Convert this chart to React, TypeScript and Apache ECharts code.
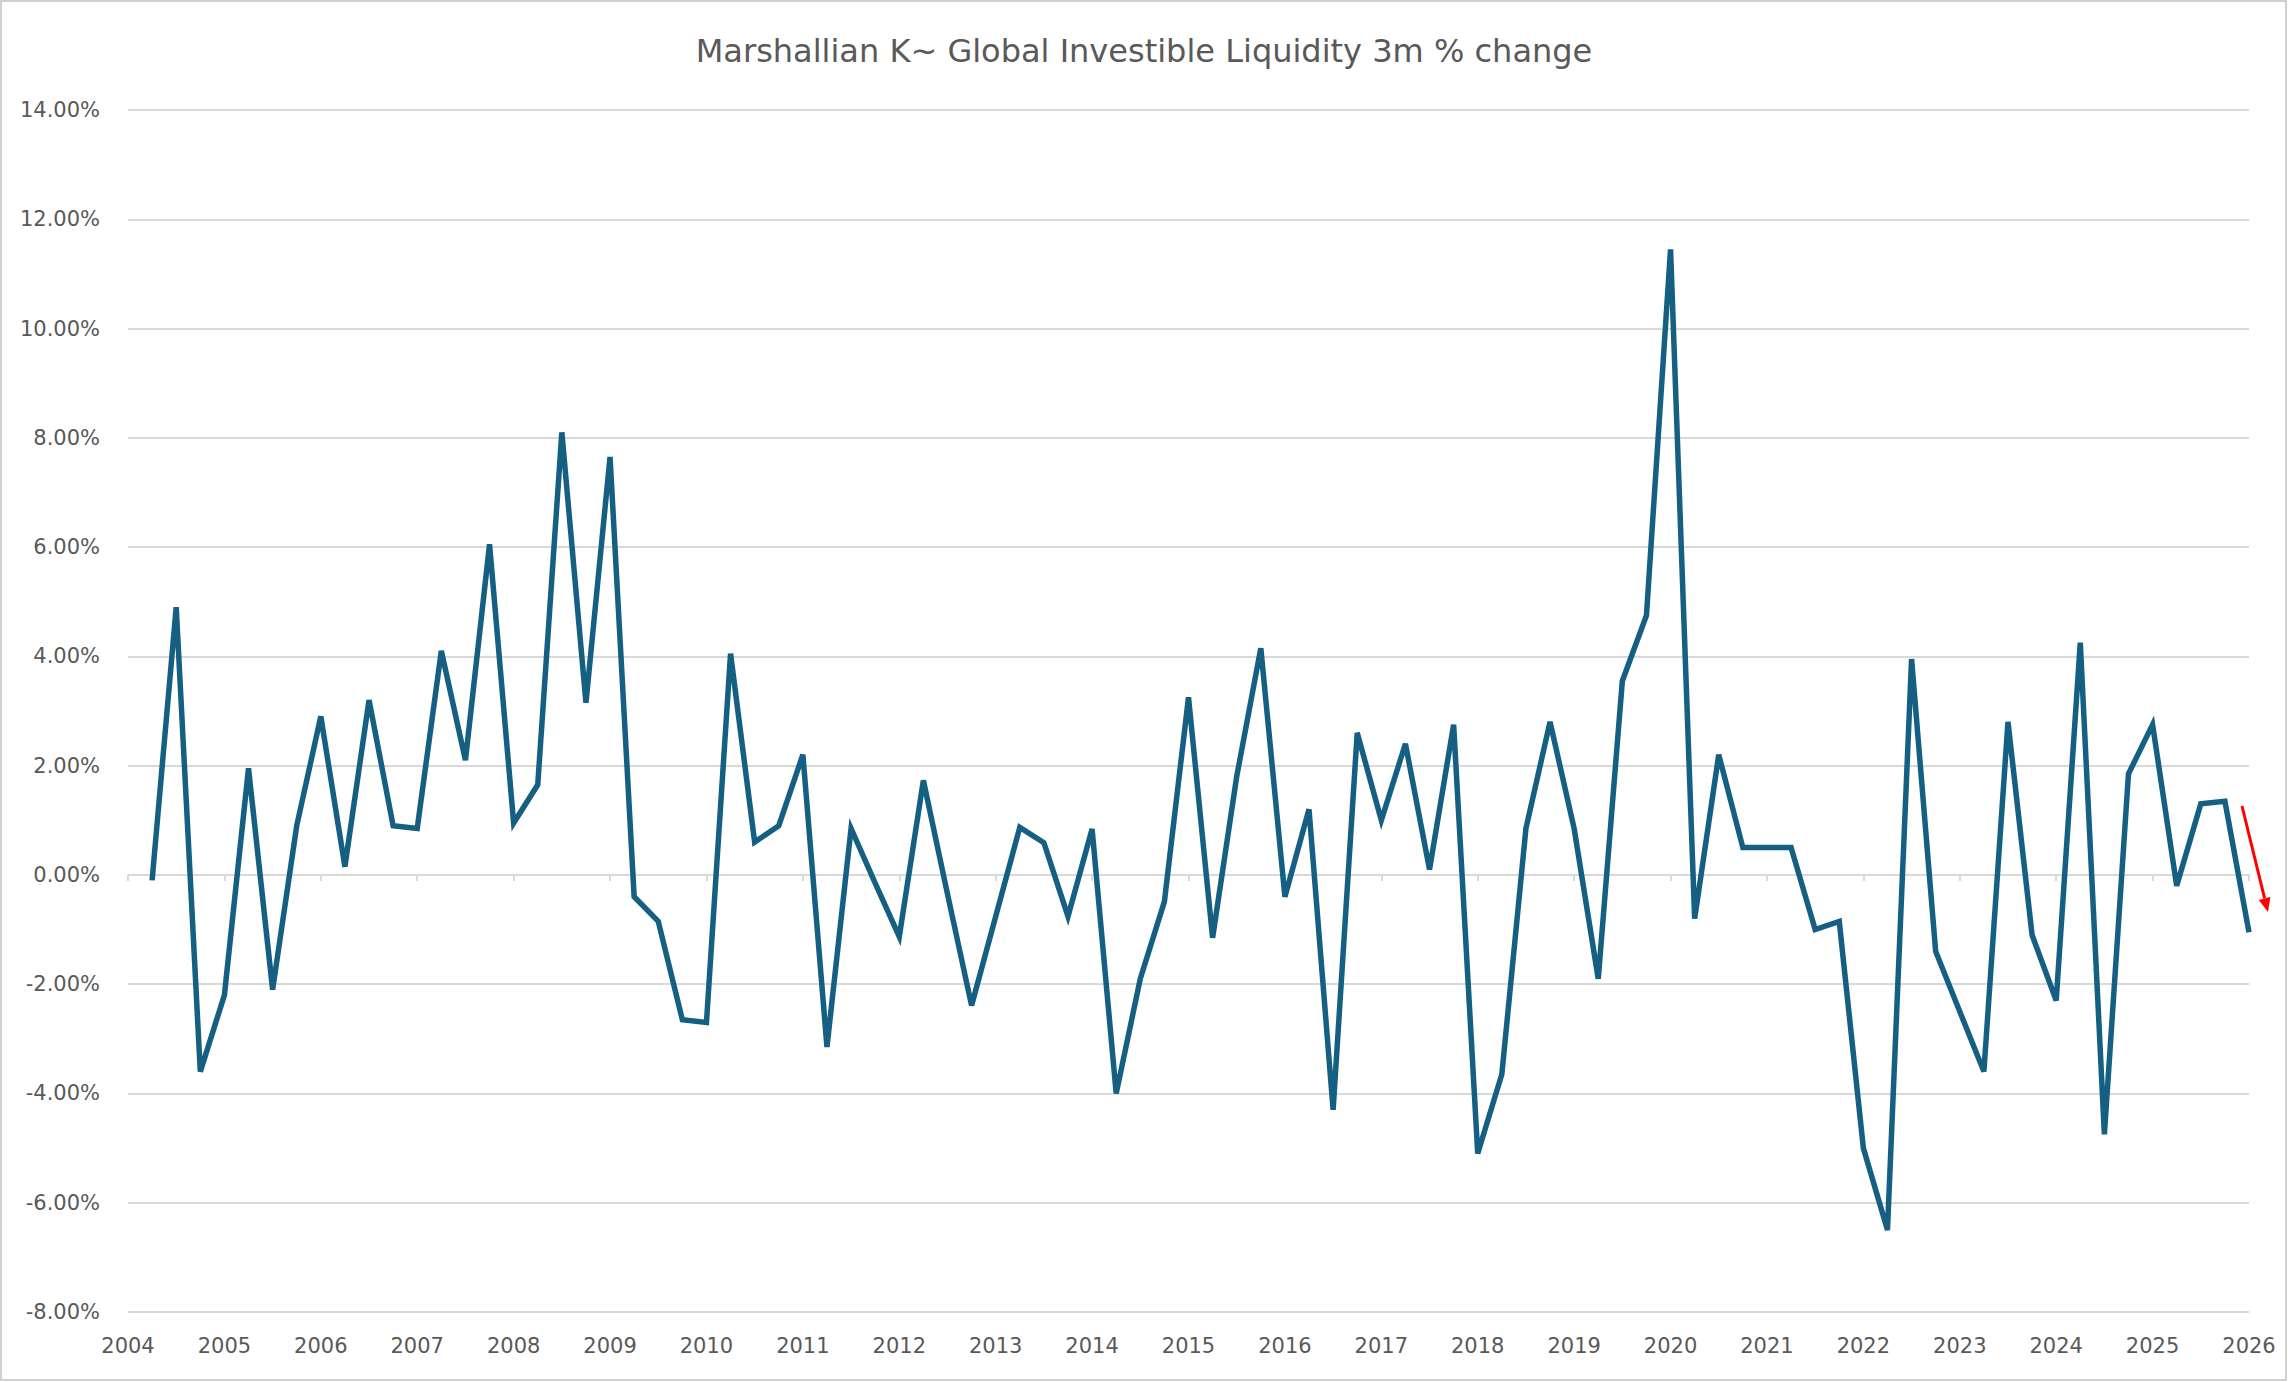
import React, { useEffect, useRef } from "react";
import * as echarts from "echarts";

// quarterly periods (year-month of the observation)
const periods = [
  "2004-04", "2004-07", "2004-10",
  "2005-01", "2005-04", "2005-07", "2005-10",
  "2006-01", "2006-04", "2006-07", "2006-10",
  "2007-01", "2007-04", "2007-07", "2007-10",
  "2008-01", "2008-04", "2008-07", "2008-10",
  "2009-01", "2009-04", "2009-07", "2009-10",
  "2010-01", "2010-04", "2010-07", "2010-10",
  "2011-01", "2011-04", "2011-07", "2011-10",
  "2012-01", "2012-04", "2012-07", "2012-10",
  "2013-01", "2013-04", "2013-07", "2013-10",
  "2014-01", "2014-04", "2014-07", "2014-10",
  "2015-01", "2015-04", "2015-07", "2015-10",
  "2016-01", "2016-04", "2016-07", "2016-10",
  "2017-01", "2017-04", "2017-07", "2017-10",
  "2018-01", "2018-04", "2018-07", "2018-10",
  "2019-01", "2019-04", "2019-07", "2019-10",
  "2020-01", "2020-04", "2020-07", "2020-10",
  "2021-01", "2021-04", "2021-07", "2021-10",
  "2022-01", "2022-04", "2022-07", "2022-10",
  "2023-01", "2023-04", "2023-07", "2023-10",
  "2024-01", "2024-04", "2024-07", "2024-10",
  "2025-01", "2025-04", "2025-07", "2025-10",
  "2026-01",
];

// 3m % change
const liquidityChange = [
  -0.1, 4.9, -3.6,
  -2.2, 1.95, -2.1, 0.9,
  2.9, 0.15, 3.2, 0.9,
  0.85, 4.1, 2.1, 6.05,
  0.95, 1.65, 8.1, 3.15,
  7.65, -0.4, -0.85, -2.65,
  -2.7, 4.05, 0.6, 0.9,
  2.2, -3.15, 0.85, -0.15,
  -1.13, 1.73, -0.35, -2.39,
  -0.76, 0.87, 0.59, -0.76,
  0.84, -4.0, -1.9, -0.49,
  3.25, -1.15, 1.8, 4.15,
  -0.4, 1.2, -4.3, 2.6,
  1.0, 2.4, 0.1, 2.75,
  -5.1, -3.65, 0.85, 2.8,
  0.85, -1.9, 3.55, 4.75,
  11.45, -0.8, 2.2, 0.5,
  0.5, 0.5, -1.0, -0.85,
  -5.0, -6.5, 3.95, -1.4,
  -2.5, -3.6, 2.8, -1.1,
  -2.3, 4.25, -4.75, 1.85,
  2.75, -0.2, 1.3, 1.35,
  -1.05,
];

const TITLE = "Marshallian K~ Global Investible Liquidity 3m % change";
const FONT = "'DejaVu Sans', sans-serif";
const TEXT = "#595959";
const GRID = "#d9d9d9";

const toYear = (p: string) => {
  const [y, m] = p.split("-").map(Number);
  return y + (m - 1) / 12;
};

const App: React.FC = () => {
  const chartRef = useRef<HTMLDivElement>(null);

  useEffect(() => {
    if (!chartRef.current) return;
    const chart = echarts.init(chartRef.current, undefined, { renderer: "svg" });

    const points = periods.map((p, i) => [toYear(p), liquidityChange[i]]);

    chart.setOption({
      animation: false,
      backgroundColor: "#ffffff",
      textStyle: { fontFamily: FONT },
      title: {
        text: TITLE,
        left: "center",
        top: 30,
        textStyle: { fontFamily: FONT, fontSize: 32, fontWeight: "normal", color: TEXT },
      },
      grid: { left: 128, right: 39, top: 110, bottom: 70, containLabel: false },
      xAxis: [
        {
          type: "value",
          min: 2004,
          max: 2026,
          interval: 1,
          axisLine: { show: false, onZero: false },
          axisTick: { show: false },
          splitLine: { show: false },
          axisLabel: {
            color: TEXT,
            fontSize: 21,
            fontFamily: FONT,
            margin: 23,
            formatter: (v: number) => String(v),
          },
        },
        {
          type: "value",
          min: 2004,
          max: 2026,
          interval: 1,
          position: "bottom",
          axisLine: { show: true, onZero: true, lineStyle: { color: GRID, width: 2 } },
          axisTick: { show: true, length: 6, lineStyle: { color: GRID, width: 2 } },
          axisLabel: { show: false },
          splitLine: { show: false },
        },
      ],
      yAxis: {
        type: "value",
        min: -8,
        max: 14,
        interval: 2,
        axisLine: { show: false },
        axisTick: { show: false },
        splitLine: { lineStyle: { color: GRID, width: 2 } },
        axisLabel: {
          color: TEXT,
          fontSize: 21,
          fontFamily: FONT,
          margin: 28,
          formatter: (v: number) => v.toFixed(2) + "%",
        },
      },
      series: [
        {
          type: "line",
          xAxisIndex: 0,
          data: points,
          showSymbol: false,
          symbol: "none",
          lineStyle: { color: "#156082", width: 5.5, join: "miter" },
          z: 3,
        },
      ],
      graphic: [
        {
          type: "rect",
          shape: { x: 1, y: 1, width: 2285, height: 1379 },
          style: { fill: "none", stroke: "#d0d0d0", lineWidth: 2 },
          silent: true,
        },
        {
          type: "line",
          shape: { x1: 2242, y1: 806, x2: 2264.6, y2: 898.4 },
          style: { stroke: "#ff0000", lineWidth: 3 },
          silent: true,
        },
        {
          type: "polygon",
          shape: { points: [[2268, 912], [2270.4, 896.9], [2258.8, 899.9]] },
          style: { fill: "#ff0000" },
          silent: true,
        },
      ],
    });

    return () => {
      chart.dispose();
    };
  }, []);

  return (
    <div
      ref={chartRef}
      style={{ position: "fixed", left: 0, top: 0, width: 2288, height: 1382 }}
    />
  );
};

export default App;
